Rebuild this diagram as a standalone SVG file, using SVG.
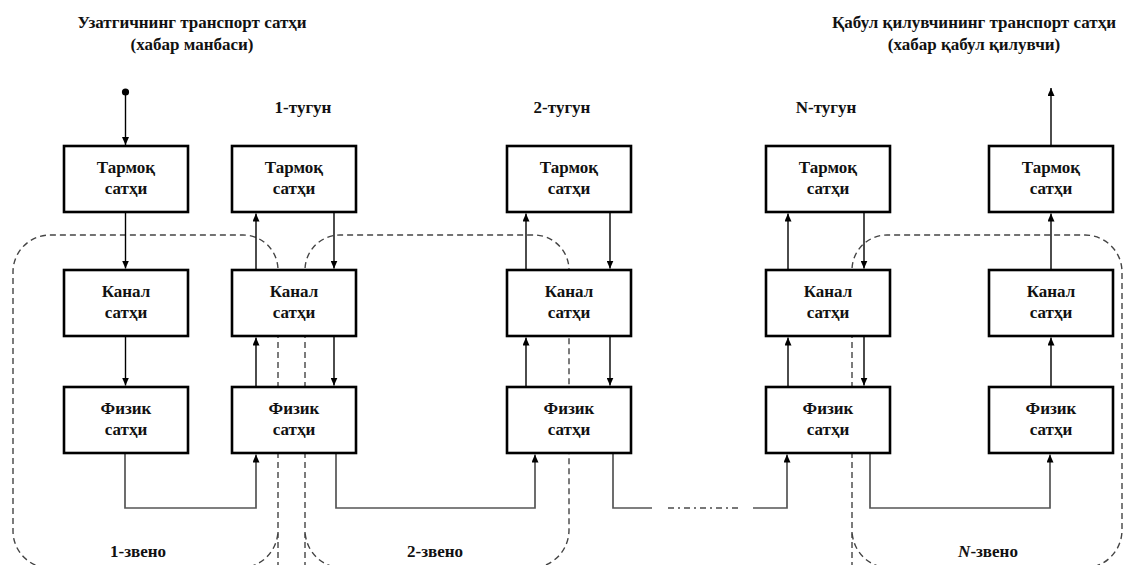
<svg xmlns="http://www.w3.org/2000/svg" width="1126" height="565" viewBox="0 0 1126 565">
<defs>
<marker id="ah" markerUnits="userSpaceOnUse" markerWidth="8" markerHeight="7" refX="8" refY="3.5" orient="auto">
<path d="M0,0 L8,3.5 L0,7 z" fill="#000"/>
</marker>
</defs>
<style>
text{font-family:'Liberation Serif','DejaVu Serif',serif;font-weight:700;fill:#111;text-anchor:middle}
.t{font-size:17px}
.b{font-size:17px}
.box{fill:#fff;stroke:#000;stroke-width:2.6}
.zone{fill:none;stroke:#444;stroke-width:1.4;stroke-dasharray:6 4}
.arr{fill:none;stroke:#000;stroke-width:1.4;marker-end:url(#ah)}
.route{fill:none;stroke:#555;stroke-width:1.7}
.routea{fill:none;stroke:#555;stroke-width:1.7;marker-end:url(#ah)}
.dd{fill:none;stroke:#777;stroke-width:2;stroke-dasharray:6 4 2 4}
</style>
<rect width="1126" height="565" fill="#fff"/>

<g id="titles" font-family="Liberation Serif, serif">
<text class="t" x="192" y="28">Узатгичнинг транспорт сатҳи</text>
<text class="t" x="192" y="50">(хабар манбаси)</text>
<text class="t" x="974" y="28">Қабул қилувчининг транспорт сатҳи</text>
<text class="t" x="974" y="50">(хабар қабул қилувчи)</text>
<text class="t" x="303" y="113">1-тугун</text>
<text class="t" x="562" y="113">2-тугун</text>
<text class="t" x="826" y="113">N-тугун</text>
</g>

<g id="zones">
<path class="zone" d="M278,568 V270 A35,35 0 0 0 243,235 H50 A37,37 0 0 0 13,272 V531 A37,37 0 0 0 50,568"/>
<path class="zone" d="M240,568 A38,38 0 0 0 278,530"/>
<path class="zone" d="M305,568 V270 A35,35 0 0 1 340,235 H534 A35,35 0 0 1 569,270 V530 A38,38 0 0 1 531,568"/>
<path class="zone" d="M343,568 A38,38 0 0 1 305,530"/>
<path class="zone" d="M852,568 V270 A35,35 0 0 1 887,235 H1085 A37,37 0 0 1 1122,272 V530 A38,38 0 0 1 1084,568"/>
<path class="zone" d="M890,568 A38,38 0 0 1 852,530"/>
</g>

<g id="connectors">
<circle cx="125.5" cy="92" r="3.6" fill="#000"/>
<path class="arr" d="M125.5,92 V145"/>
<path class="arr" d="M125.5,212 V268.5"/>
<path class="arr" d="M125.5,336 V385.5"/>
<path class="arr" d="M256,270 V213.5"/>
<path class="arr" d="M334,212 V268.5"/>
<path class="arr" d="M256,387 V337.5"/>
<path class="arr" d="M334,336 V385.5"/>
<path class="arr" d="M526,270 V213.5"/>
<path class="arr" d="M610,212 V268.5"/>
<path class="arr" d="M526,387 V337.5"/>
<path class="arr" d="M610,336 V385.5"/>
<path class="arr" d="M788,270 V213.5"/>
<path class="arr" d="M864,212 V268.5"/>
<path class="arr" d="M788,387 V337.5"/>
<path class="arr" d="M864,336 V385.5"/>
<path class="arr" d="M1051,146 V88"/>
<path class="arr" d="M1051,270 V213.5"/>
<path class="arr" d="M1051,387 V337.5"/>
<path class="routea" d="M125,453 V508 H256 V454.5"/>
<path class="routea" d="M336,453 V508 H535 V454.5"/>
<path class="route" d="M613,453 V508 H652"/>
<path class="dd" d="M668,508 H738"/>
<path class="routea" d="M753,508 H787 V454.5"/>
<path class="routea" d="M870,453 V508 H1050 V454.5"/>
</g>

<g font-family="Liberation Serif, serif">
<g id="node-A-net"><rect class="box" x="64" y="146" width="124" height="66"/><text class="b" x="126" y="173">Тармоқ</text><text class="b" x="126" y="194">сатҳи</text></g>
<g id="node-A-link"><rect class="box" x="64" y="270" width="124" height="66"/><text class="b" x="126" y="297">Канал</text><text class="b" x="126" y="318">сатҳи</text></g>
<g id="node-A-phys"><rect class="box" x="64" y="387" width="124" height="66"/><text class="b" x="126" y="414">Физик</text><text class="b" x="126" y="435">сатҳи</text></g>

<g id="node-B-net"><rect class="box" x="232" y="146" width="124" height="66"/><text class="b" x="294" y="173">Тармоқ</text><text class="b" x="294" y="194">сатҳи</text></g>
<g id="node-B-link"><rect class="box" x="232" y="270" width="124" height="66"/><text class="b" x="294" y="297">Канал</text><text class="b" x="294" y="318">сатҳи</text></g>
<g id="node-B-phys"><rect class="box" x="232" y="387" width="124" height="66"/><text class="b" x="294" y="414">Физик</text><text class="b" x="294" y="435">сатҳи</text></g>

<g id="node-C-net"><rect class="box" x="507" y="146" width="124" height="66"/><text class="b" x="569" y="173">Тармоқ</text><text class="b" x="569" y="194">сатҳи</text></g>
<g id="node-C-link"><rect class="box" x="507" y="270" width="124" height="66"/><text class="b" x="569" y="297">Канал</text><text class="b" x="569" y="318">сатҳи</text></g>
<g id="node-C-phys"><rect class="box" x="507" y="387" width="124" height="66"/><text class="b" x="569" y="414">Физик</text><text class="b" x="569" y="435">сатҳи</text></g>

<g id="node-D-net"><rect class="box" x="766" y="146" width="124" height="66"/><text class="b" x="828" y="173">Тармоқ</text><text class="b" x="828" y="194">сатҳи</text></g>
<g id="node-D-link"><rect class="box" x="766" y="270" width="124" height="66"/><text class="b" x="828" y="297">Канал</text><text class="b" x="828" y="318">сатҳи</text></g>
<g id="node-D-phys"><rect class="box" x="766" y="387" width="124" height="66"/><text class="b" x="828" y="414">Физик</text><text class="b" x="828" y="435">сатҳи</text></g>

<g id="node-E-net"><rect class="box" x="989" y="146" width="124" height="66"/><text class="b" x="1051" y="173">Тармоқ</text><text class="b" x="1051" y="194">сатҳи</text></g>
<g id="node-E-link"><rect class="box" x="989" y="270" width="124" height="66"/><text class="b" x="1051" y="297">Канал</text><text class="b" x="1051" y="318">сатҳи</text></g>
<g id="node-E-phys"><rect class="box" x="989" y="387" width="124" height="66"/><text class="b" x="1051" y="414">Физик</text><text class="b" x="1051" y="435">сатҳи</text></g>
</g>

<g id="zone-labels" font-family="Liberation Serif, serif">
<text class="b" x="138" y="557">1-звено</text>
<text class="b" x="435" y="557">2-звено</text>
<text class="b" x="988" y="557"><tspan font-style="italic">N</tspan>-звено</text>
</g>
</svg>
